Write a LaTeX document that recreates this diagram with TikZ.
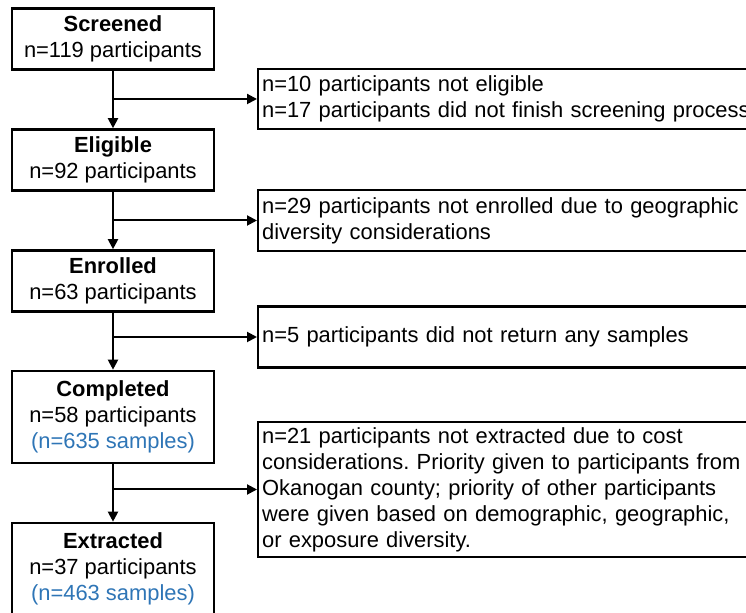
\documentclass[tikz,border=0pt]{standalone}
\usepackage{fontspec}
\setmainfont{Liberation Sans}
\usetikzlibrary{positioning}
\usetikzlibrary{arrows.meta}
\definecolor{sampleblue}{RGB}{46,117,182}
\frenchspacing

\begin{document}
\begin{tikzpicture}[x = 0.5pt, y = -0.5pt,
		stage/.style = {draw, black, line width = 1.3pt, minimum width = 101pt, inner sep = 0pt, align = center, font = \fontsize{10.95}{13}\selectfont},
		excl/.style = {draw, black, line width = 1.1pt, text width = 252.5pt, inner xsep = 2pt, inner ysep = 0pt, align = left, anchor = west, font = \fontsize{10.95}{13}\selectfont},
		flow/.style = {black, line width = 1pt, -{Triangle[length = 5pt, width = 5pt]}}]
					\clip (0, 0) rectangle (746, 613);
					\node [stage, minimum height = 30.5pt] (screened) at (113, 39) {\textbf{Screened}\\n=119 participants};
					\node [stage, minimum height = 30.5pt] (eligible) at (113, 160) {\textbf{Eligible}\\n=92 participants};
					\node [stage, minimum height = 30.5pt] (enrolled) at (113, 281) {\textbf{Enrolled}\\n=63 participants};
					\node [stage, minimum height = 46pt] (completed) at (113, 417) {\textbf{Completed}\\n=58 participants\\\textcolor{sampleblue}{(n=635 samples)}};
					\node [stage, minimum height = 46pt] (extracted) at (113, 569) {\textbf{Extracted}\\n=37 participants\\\textcolor{sampleblue}{(n=463 samples)}};
					\node [excl, minimum height = 30.25pt] (notEligible) at (257, 99) {n=10 participants not eligible\\n=17 participants did not finish screening process};
					\node [excl, minimum height = 30.5pt] (notEnrolled) at (257, 220.5) {n=29 participants not enrolled due to geographic\\diversity considerations};
					\node [excl, minimum height = 30.5pt] (noSamples) at (257, 337) {n=5 participants did not return any samples};
					\node [excl, minimum height = 67.5pt] (notExtracted) at (257, 489.5) {n=21 participants not extracted due to cost\\considerations. Priority given to participants from\\Okanogan county; priority of other participants\\were given based on demographic, geographic,\\or exposure diversity.};
					\draw [flow] (screened) -- (eligible);
					\draw [flow] (eligible) -- (enrolled);
					\draw [flow] (enrolled) -- (completed);
					\draw [flow] (completed) -- (extracted);
					\draw [flow] (screened.south |- notEligible.west) -- (notEligible.west);
					\draw [flow] (eligible.south |- notEnrolled.west) -- (notEnrolled.west);
					\draw [flow] (enrolled.south |- noSamples.west) -- (noSamples.west);
					\draw [flow] (completed.south |- notExtracted.west) -- (notExtracted.west);
				\end{tikzpicture}
\end{document}
